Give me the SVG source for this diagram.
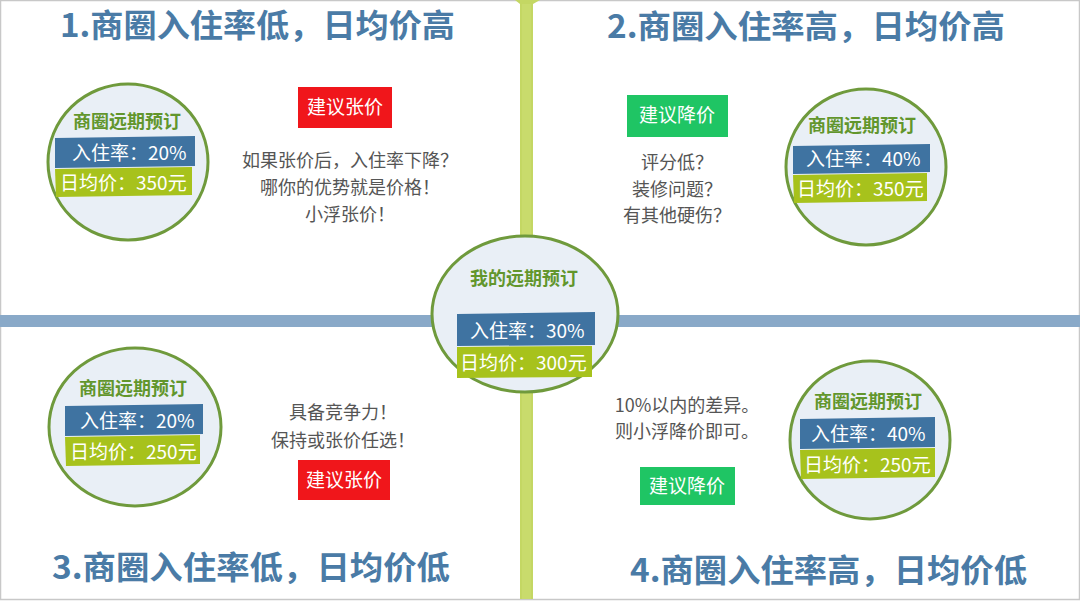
<svg xmlns="http://www.w3.org/2000/svg" width="1080" height="601" viewBox="0 0 1080 601">
<style>
.cjk{font-family:"Noto Sans CJK SC","Noto Sans",sans-serif}
.title{font-size:32px;font-weight:bold;fill:#4a7ba6}
.circ{fill:#e9eff6;stroke:#6f9a3c;stroke-width:3}
.ctitle{font-size:18px;font-weight:bold;fill:#62962c;text-anchor:middle}
.blue{fill:#3f73a1}
.green{fill:#a7c21c}
.bt{font-size:19px;fill:#ffffff}
.note{font-size:18px;fill:#555555;text-anchor:middle}
.red{fill:#f0161b}
.gbtn{fill:#1fc564}
.btxt{font-size:19px;fill:#ffffff;text-anchor:middle}
</style>
<rect x="0" y="0" width="1080" height="601" fill="#ffffff"/>
<rect x="0.5" y="0.5" width="1079" height="599" fill="none" stroke="#c8c8c8" stroke-width="1.5"/>
<g id="connectors">
<rect x="0" y="315" width="1080" height="12" fill="#89a9c8"/>
<rect x="520" y="0" width="13" height="599" fill="#c4d763"/>
<rect x="522" y="0" width="9" height="599" fill="#c9db6c"/>
<polygon points="515,0 540,0 533,4 520,4" fill="#c4d763"/>
</g>
<g id="title1"><text class="cjk title" x="60" y="37" textLength="395" lengthAdjust="spacingAndGlyphs">1.商圈入住率低，日均价高</text></g>
<g id="title2"><text class="cjk title" x="607" y="38" textLength="398" lengthAdjust="spacingAndGlyphs">2.商圈入住率高，日均价高</text></g>
<g id="title3"><text class="cjk title" x="52" y="579" textLength="398" lengthAdjust="spacingAndGlyphs">3.商圈入住率低，日均价低</text></g>
<g id="title4"><text class="cjk title" x="630" y="582" textLength="397" lengthAdjust="spacingAndGlyphs">4.商圈入住率高，日均价低</text></g>

<g id="center">
<ellipse class="circ" cx="525" cy="314" rx="93" ry="78"/>
<text class="cjk ctitle" x="524" y="285">我的远期预订</text>
<polygon class="blue" points="457,314 595,312 595,345 457,346"/>
<text class="cjk bt" x="470" y="338">入住率：30%</text>
<polygon class="green" points="457,347 592,346 592,377 457,378"/>
<text class="cjk bt" x="460" y="370">日均价：300元</text>
</g>

<g id="tl-circle">
<ellipse class="circ" cx="128" cy="162" rx="80" ry="78"/>
<text class="cjk ctitle" x="127" y="128">商圈远期预订</text>
<polygon class="blue" points="55,138 195,136 195,166 55,168"/>
<text class="cjk bt" x="72" y="160">入住率：20%</text>
<polygon class="green" points="55,169 192,167 192,195 56,197"/>
<text class="cjk bt" x="60" y="190">日均价：350元</text>
</g>

<g id="tr-circle">
<ellipse class="circ" cx="866" cy="167" rx="80" ry="78"/>
<text class="cjk ctitle" x="862" y="132">商圈远期预订</text>
<polygon class="blue" points="793,146 930,144 930,172 793,174"/>
<text class="cjk bt" x="806" y="166">入住率：40%</text>
<polygon class="green" points="793,175 927,173 927,201 794,203"/>
<text class="cjk bt" x="797" y="196">日均价：350元</text>
</g>

<g id="bl-circle">
<ellipse class="circ" cx="135" cy="427" rx="86" ry="79"/>
<text class="cjk ctitle" x="133" y="395">商圈远期预订</text>
<polygon class="blue" points="65,406 203,404 203,434 65,436"/>
<text class="cjk bt" x="80" y="428">入住率：20%</text>
<polygon class="green" points="65,437 200,435 200,464 66,466"/>
<text class="cjk bt" x="70" y="459">日均价：250元</text>
</g>

<g id="br-circle">
<ellipse class="circ" cx="870" cy="440" rx="80" ry="79"/>
<text class="cjk ctitle" x="868" y="408">商圈远期预订</text>
<polygon class="blue" points="800,419 935,417 935,447 800,449"/>
<text class="cjk bt" x="811" y="441">入住率：40%</text>
<polygon class="green" points="800,450 935,448 935,477 801,479"/>
<text class="cjk bt" x="804" y="472">日均价：250元</text>
</g>

<g id="tl-advice">
<rect class="red" x="298" y="87" width="94" height="41"/>
<text class="cjk btxt" x="345" y="114">建议张价</text>
<text class="cjk note" x="350" y="167">如果张价后，入住率下降？</text>
<text class="cjk note" x="350" y="194">哪你的优势就是价格！</text>
<text class="cjk note" x="350" y="221">小浮张价！</text>
</g>

<g id="tr-advice">
<rect class="gbtn" x="627" y="95" width="101" height="42"/>
<text class="cjk btxt" x="677" y="122">建议降价</text>
<text class="cjk note" x="677" y="169">评分低？</text>
<text class="cjk note" x="677" y="196">装修问题？</text>
<text class="cjk note" x="677" y="222">有其他硬伤？</text>
</g>

<g id="bl-advice">
<text class="cjk note" x="343" y="419">具备竞争力！</text>
<text class="cjk note" x="343" y="447">保持或张价任选！</text>
<rect class="red" x="298" y="460" width="92" height="40"/>
<text class="cjk btxt" x="344" y="487">建议张价</text>
</g>

<g id="br-advice">
<text class="cjk note" x="687" y="412">10%以内的差异。</text>
<text class="cjk note" x="687" y="438">则小浮降价即可。</text>
<rect class="gbtn" x="640" y="467" width="95" height="38"/>
<text class="cjk btxt" x="687" y="493">建议降价</text>
</g>
</svg>
